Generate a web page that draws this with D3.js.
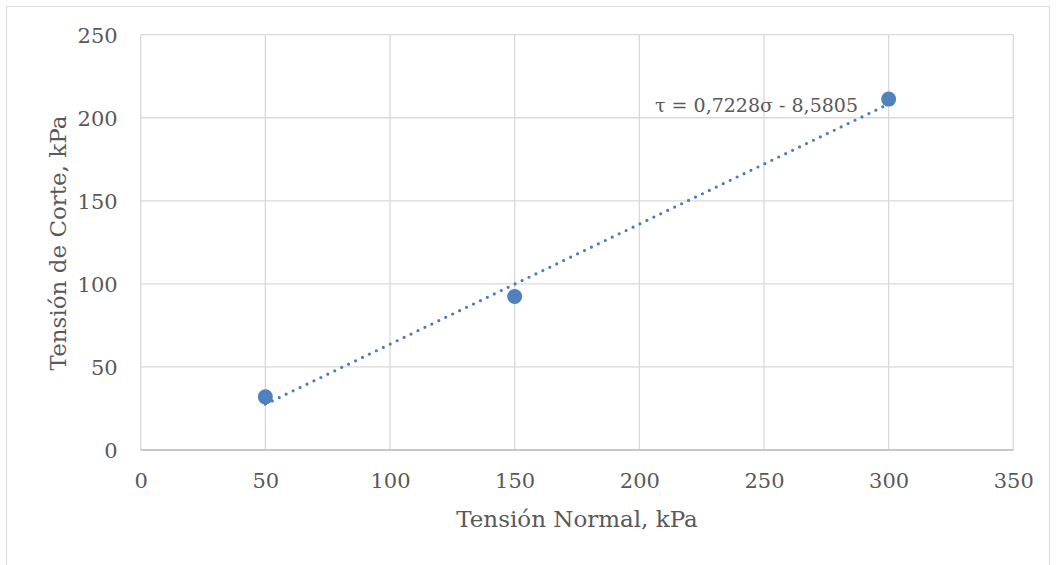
<!DOCTYPE html>
<html><head><meta charset="utf-8">
<script src="https://cdn.jsdelivr.net/npm/d3@7"></script>
<style>body{margin:0;background:#fff}svg{display:block}</style>
</head><body>
<script>
const xValues = [50, 150, 300];
const yValues = [32, 92.44, 211.23];
const xTicks = [0, 50, 100, 150, 200, 250, 300, 350];
const yTicks = [0, 50, 100, 150, 200, 250];
const slope = 0.7228, intercept = -8.5805;
const eqLabel = "τ = 0,7228σ - 8,5805";
const xTitle = "Tensión Normal, kPa";
const yTitle = "Tensión de Corte, kPa";

const W = 1056, H = 565;
const font = "'DejaVu Serif', serif";
const txt = "#595959";
const svg = d3.select("body").append("svg").attr("width", W).attr("height", H);
svg.append("rect").attr("x", 6.5).attr("y", 6.5).attr("width", 1043).attr("height", 570)
  .attr("fill", "#fff").attr("stroke", "#d9d9d9").attr("stroke-width", 1);

const x = d3.scaleLinear().domain([0, 350]).range([140.7, 1013.3]);
const y = d3.scaleLinear().domain([0, 250]).range([450, 34.7]);

const g = svg.append("g");
g.selectAll(".vg").data(xTicks).join("line")
  .attr("x1", d => x(d)).attr("x2", d => x(d)).attr("y1", y(0)).attr("y2", y(250))
  .attr("stroke", "#d9d9d9").attr("stroke-width", 1.3);
g.selectAll(".hg").data(yTicks).join("line")
  .attr("x1", x(0)).attr("x2", x(350)).attr("y1", d => y(d)).attr("y2", d => y(d))
  .attr("stroke", "#d9d9d9").attr("stroke-width", 1.3);

const xAxis = d3.axisBottom(x).tickValues(xTicks).tickSize(0).tickPadding(0);
const yAxis = d3.axisLeft(y).tickValues(yTicks).tickSize(0).tickPadding(23);
const gx = svg.append("g").attr("transform", `translate(0,${y(0)})`).call(xAxis);
const gy = svg.append("g").attr("transform", `translate(${x(0)},0)`).call(yAxis);
[gx, gy].forEach(a => {
  a.select(".domain").remove();
  a.selectAll("text").attr("fill", txt).style("font-family", font).style("font-size", "21px");
});
gx.selectAll("text").attr("dy", null).attr("y", 38);
gy.selectAll("text").attr("dy", "0.36em");
svg.append("line").attr("x1", x(0)).attr("x2", x(350)).attr("y1", y(0)).attr("y2", y(0))
  .attr("stroke", "#bfbfbf").attr("stroke-width", 1.3);

svg.append("line")
  .attr("x1", x(xValues[0])).attr("y1", y(slope * xValues[0] + intercept))
  .attr("x2", x(xValues[2])).attr("y2", y(slope * xValues[2] + intercept))
  .attr("stroke", "#4a7ebb").attr("stroke-width", 3.2)
  .attr("stroke-linecap", "round").attr("stroke-dasharray", "0 7.7");

svg.selectAll(".pt").data(xValues).join("circle")
  .attr("cx", d => x(d)).attr("cy", (d, i) => y(yValues[i])).attr("r", 7.5)
  .attr("fill", "#4f81bd");

svg.append("text").attr("x", 858).attr("y", 112).attr("text-anchor", "end")
  .attr("fill", txt).style("font-family", font).style("font-size", "19px").text(eqLabel);

svg.append("text").attr("x", 577).attr("y", 527).attr("text-anchor", "middle")
  .attr("fill", txt).style("font-family", font).style("font-size", "23px").text(xTitle);
svg.append("text").attr("transform", `translate(66,243) rotate(-90)`)
  .attr("text-anchor", "middle")
  .attr("fill", txt).style("font-family", font).style("font-size", "23px").text(yTitle);
</script>
</body></html>
